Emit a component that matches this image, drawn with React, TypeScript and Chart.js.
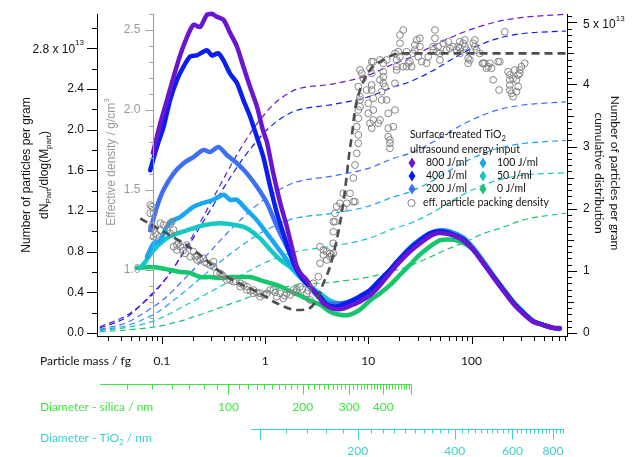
import React, { useEffect, useRef } from 'react';
import { Chart, registerables } from 'chart.js';

Chart.register(...registerables);

// ---------------- DATA ----------------
// Size distributions dN/dlog(M) (x 1e13), [mass fg, value]
const s800 = [[0.0818,1.77],[0.0963,2.06],[0.112,2.29],[0.13,2.52],[0.15,2.73],[0.175,2.91],[0.202,3.03],[0.235,3.01],[0.273,3.13],[0.305,3.14],[0.34,3.11],[0.395,3.08],[0.458,2.95],[0.532,2.82],[0.616,2.62],[0.715,2.42],[0.831,2.23],[0.962,1.98],[1.04,1.88],[1.2,1.57],[1.4,1.28],[1.62,1.05],[1.88,0.78],[2.03,0.65],[2.18,0.59],[2.53,0.52],[2.93,0.42],[3.4,0.34],[3.67,0.29],[4.58,0.24],[5.72,0.24],[7.15,0.28],[8.3,0.31],[10.4,0.37],[13,0.47],[16.2,0.59],[20.2,0.70],[25.3,0.80],[31.6,0.88],[39.5,0.95],[45.9,0.98],[53.1,0.98],[66.4,0.96],[83,0.91],[103.6,0.82],[129.6,0.69],[162,0.55],[202,0.42],[253,0.29],[316,0.19],[395,0.11],[493,0.08],[617,0.05],[716,0.05]];
const s400 = [[0.077,1.60],[0.0895,1.83],[0.104,2.03],[0.12,2.29],[0.14,2.49],[0.162,2.62],[0.188,2.72],[0.218,2.73],[0.273,2.78],[0.305,2.73],[0.353,2.75],[0.395,2.68],[0.458,2.55],[0.532,2.46],[0.616,2.29],[0.715,2.13],[0.831,1.93],[0.962,1.73],[1.12,1.44],[1.3,1.18],[1.5,0.98],[1.74,0.78],[2.03,0.62],[2.35,0.52],[2.93,0.42],[3.4,0.36],[3.95,0.28],[4.94,0.26],[6.64,0.31],[8.3,0.36],[10.4,0.42],[13,0.52],[16.2,0.62],[20.2,0.73],[25.3,0.83],[31.6,0.91],[39.5,0.98],[49.3,1.0],[61.7,0.98],[83,0.92],[103.6,0.82],[129.6,0.69],[162,0.56],[202,0.43],[253,0.30],[316,0.20],[395,0.115],[493,0.08],[617,0.05],[716,0.045]];
const s200 = [[0.077,1.01],[0.0895,1.24],[0.104,1.41],[0.13,1.57],[0.162,1.67],[0.202,1.73],[0.253,1.80],[0.294,1.78],[0.353,1.83],[0.426,1.75],[0.532,1.67],[0.665,1.57],[0.831,1.44],[1.04,1.28],[1.3,1.05],[1.62,0.85],[2.03,0.65],[2.53,0.49],[2.93,0.42],[3.95,0.30],[5.3,0.29],[6.64,0.31],[8.3,0.36],[10.4,0.42],[13,0.52],[16.2,0.62],[20.2,0.73],[25.3,0.83],[31.6,0.91],[39.5,0.97],[49.3,1.0],[61.7,0.99],[83,0.93],[103.6,0.83],[129.6,0.70],[162,0.56],[202,0.43],[253,0.30],[316,0.20],[395,0.12],[493,0.08],[617,0.05],[716,0.045]];
const s100 = [[0.0716,0.75],[0.083,0.88],[0.0963,0.91],[0.112,1.05],[0.13,1.11],[0.15,1.14],[0.202,1.24],[0.253,1.28],[0.316,1.31],[0.395,1.36],[0.458,1.31],[0.532,1.31],[0.665,1.21],[0.831,1.11],[1.04,0.98],[1.3,0.85],[1.62,0.72],[2.03,0.59],[2.53,0.49],[3.16,0.37],[3.95,0.30],[5.3,0.28],[6.64,0.30],[8.3,0.35],[10.4,0.42],[13,0.52],[16.2,0.62],[20.2,0.73],[25.3,0.84],[31.6,0.92],[39.5,0.98],[49.3,1.01],[61.7,1.0],[83,0.94],[103.6,0.84],[129.6,0.71],[162,0.57],[202,0.44],[253,0.31],[316,0.21],[395,0.12],[493,0.08],[617,0.05],[716,0.04]];
const s50 = [[0.0617,0.64],[0.069,0.70],[0.077,0.77],[0.0895,0.85],[0.12,0.95],[0.175,1.01],[0.253,1.06],[0.367,1.08],[0.532,1.06],[0.665,1.03],[0.894,0.93],[1.12,0.82],[1.4,0.72],[1.74,0.65],[2.18,0.55],[2.72,0.46],[3.4,0.39],[4.25,0.32],[5.3,0.29],[6.64,0.30],[8.3,0.35],[10.4,0.42],[13,0.52],[16.2,0.62],[20.2,0.73],[25.3,0.83],[31.6,0.91],[39.5,0.97],[49.3,1.0],[61.7,0.99],[83,0.93],[103.6,0.83],[129.6,0.70],[162,0.56],[202,0.43],[253,0.30],[316,0.20],[395,0.12],[493,0.08],[617,0.05],[716,0.045]];
const s0 = [[0.0573,0.64],[0.077,0.65],[0.0963,0.64],[0.12,0.62],[0.15,0.60],[0.188,0.59],[0.235,0.55],[0.294,0.55],[0.367,0.54],[0.458,0.55],[0.573,0.55],[0.715,0.55],[0.894,0.52],[1.12,0.49],[1.4,0.46],[1.74,0.41],[2.18,0.37],[2.72,0.32],[3.4,0.28],[4.25,0.21],[5.3,0.18],[6.64,0.18],[8.3,0.23],[10.4,0.32],[13,0.39],[16.2,0.47],[20.2,0.57],[25.3,0.67],[31.6,0.77],[39.5,0.85],[49.3,0.91],[61.7,0.92],[77.1,0.90],[103.6,0.82],[129.6,0.69],[162,0.56],[202,0.43],[253,0.30],[316,0.20],[395,0.12],[493,0.08],[617,0.05],[716,0.045]];

// Cumulative distributions (x 1e13) on shared mass grid
const cumMass = [0.025,0.046,0.079,0.1,0.126,0.158,0.2,0.251,0.316,0.398,0.501,0.631,0.794,1,1.26,1.58,2,4.6,10,17.5,25,42,53,83,130,200,316,820];
const cum800 = [0.10,0.29,0.60,0.79,1.01,1.28,1.57,1.87,2.18,2.49,2.79,3.07,3.32,3.53,3.71,3.83,3.92,4.01,4.15,4.33,4.43,4.62,4.70,4.84,4.95,5.03,5.08,5.13];
const cum400 = [0.08,0.26,0.62,0.80,1.02,1.26,1.52,1.79,2.06,2.34,2.60,2.84,3.05,3.24,3.39,3.50,3.58,3.68,3.80,3.96,4.04,4.22,4.32,4.51,4.66,4.76,4.82,4.86];
const cum200 = [0.06,0.17,0.40,0.52,0.67,0.84,1.01,1.19,1.37,1.55,1.72,1.88,2.03,2.16,2.27,2.36,2.43,2.53,2.65,2.81,2.89,3.07,3.17,3.36,3.51,3.61,3.67,3.72];
const cum100 = [0.05,0.12,0.28,0.38,0.51,0.64,0.78,0.92,1.06,1.19,1.32,1.44,1.55,1.65,1.73,1.80,1.85,1.93,2.04,2.19,2.27,2.45,2.55,2.74,2.89,2.99,3.05,3.10];
const cum50 = [0.04,0.09,0.18,0.25,0.33,0.42,0.51,0.60,0.69,0.78,0.87,0.96,1.05,1.13,1.20,1.26,1.31,1.40,1.52,1.68,1.76,1.94,2.04,2.23,2.38,2.48,2.54,2.58];
const cum0 = [0.02,0.05,0.09,0.12,0.16,0.20,0.26,0.31,0.37,0.43,0.49,0.55,0.61,0.66,0.70,0.74,0.77,0.82,0.90,1.00,1.08,1.24,1.32,1.45,1.60,1.70,1.82,1.93];

// Effective particle packing density, [mass fg, g/cm3]
const densityPts = [[0.0771,1.406],[0.0771,1.354],[0.0801,1.396],[0.0801,1.271],[0.083,1.354],[0.083,1.208],[0.0862,1.229],[0.0895,1.219],[0.0964,1.25],[0.0964,1.292],[0.1037,1.281],[0.1119,1.25],[0.1205,1.292],[0.125,1.302],[0.1205,1.229],[0.1297,1.25],[0.1297,1.146],[0.1397,1.156],[0.1397,1.125],[0.145,1.17],[0.1504,1.146],[0.16,1.12],[0.1682,1.104],[0.1746,1.156],[0.188,1.083],[0.2023,1.114],[0.2104,1.083],[0.2183,1.063],[0.22,1.09],[0.235,1.063],[0.253,1.073],[0.26,1.05],[0.273,1.042],[0.2937,1.031],[0.3162,1.052],[0.3162,1.021],[0.341,0.979],[0.3667,0.979],[0.38,0.97],[0.3948,0.958],[0.4259,0.938],[0.4584,0.938],[0.4934,0.927],[0.52,0.93],[0.5728,0.917],[0.5728,0.896],[0.62,0.905],[0.6653,0.875],[0.6653,0.896],[0.72,0.87],[0.7709,0.854],[0.7709,0.875],[0.83,0.86],[0.8946,0.833],[0.8946,0.854],[0.97,0.845],[1.039,0.854],[1.118,0.875],[1.203,0.875],[1.25,0.86],[1.298,0.833],[1.397,0.854],[1.503,0.823],[1.55,0.84],[1.622,0.854],[1.746,0.844],[1.879,0.875],[1.95,0.86],[2.027,0.875],[2.182,0.896],[2.3,0.88],[2.533,0.854],[2.6,0.87],[2.726,0.813],[2.935,0.917],[3.281,0.958],[3.406,1.042],[3.406,1.146],[3.667,1.094],[3.667,1.125],[3.955,1.114],[3.955,1.063],[4.256,1.083],[4.256,1.104],[4.581,1.104],[4.581,1.302],[4.581,1.239],[4.581,1.167],[4.421,1.094],[4.758,1.354],[4.758,1.302],[4.942,1.396],[5.319,1.417],[5.725,1.386],[6.177,1.417],[5.725,1.479],[6.646,1.479],[7.152,1.427],[7.43,1.427],
[7.72,1.729],[7.43,1.656],[7.15,1.575],[8.0,1.792],[8.0,1.844],[7.72,1.896],[8.0,1.948],[8.0,2.0],[8.31,2.083],[8.0,2.146],[8.31,2.021],[8.31,2.063],[8.94,2.198],[8.63,2.229],[8.31,2.25],
[10.78,2.302],[10.78,2.229],[9.64,2.125],[9.99,2.042],[10.78,2.125],[11.17,2.073],[9.99,1.979],[10.38,1.917],[10.78,1.886],[11.17,1.938],[12.97,1.938],[12.49,1.917],[13.96,2.208],[13.96,2.167],[14.5,2.146],[13.47,2.114],[13.47,2.063],[15.06,2.063],[15.61,1.979],[18.12,2.0],[15.61,1.833],[16.21,1.792],[16.21,1.761],[17.45,1.896],[18.12,2.167],[18.82,2.313],[20.26,2.417],[21.8,2.5],[20.26,2.469],[19.5,2.364],[20.26,2.333],[24.4,2.292],[25.3,2.302],[27.2,2.354],[29.4,2.438],[28.3,2.406],[31.6,2.396],[30.4,2.333],[32.9,2.302],[36.7,2.292],[38.0,2.333],[42.5,2.375],[44.2,2.5],[44.2,2.448],[45.9,2.364],[49.4,2.354],[53.2,2.417],[57.3,2.375],[61.7,2.386],[66.4,2.396],[71.7,2.375],[74.2,2.396],[77.1,2.354],[83.0,2.417],[86.2,2.396],[89.5,2.375],[92.8,2.292],[96.4,2.313],[103.7,2.417],[107.7,2.396],[111.9,2.375],[120.4,2.354],[127.9,2.292],[134.6,2.292],[144.9,2.271],[150.5,2.292],[156.3,2.261],[162,2.188],[181,2.302],[185,2.125],[210,2.489],[226,2.239],[235,2.219],[235,2.188],[235,2.156],[244,2.104],[253,2.083],[273,2.188],[283,2.219],[294,2.25],[305,2.271],[328,2.292],[263,2.25],[49.4,2.313],[47.5,2.396],[23.5,2.364],[18.82,2.271],[21.8,2.271],[18.82,2.25],[13.96,2.239],[12.97,2.188],[13.96,2.292],[23.5,2.271],[26.3,2.271],[10.38,2.261],[11.17,2.0],[15.61,1.886],[16.21,1.813],[10.78,2.156],[18.12,2.354],[11.17,2.302],[12.97,2.313],[15.06,2.313],[28.3,2.375],[31.6,2.448],[42.5,2.396],[59.4,2.427],[77.1,2.386],[77.1,2.427],[86.2,2.438],[107.7,2.438],[129.6,2.292],[139.8,2.261],[92.8,2.323],[188,2.302],[294,2.229],[283,2.146],[273,2.114],[253,2.198],[235,2.125]];
const densityFit = [[0.0617,1.323],[0.2023,1.125],[0.4259,0.958],[0.8946,0.854],[1.298,0.792],[2.027,0.75],[2.533,0.754],[3.164,0.8125],[3.667,0.917],[4.256,1.021],[4.942,1.188],[5.525,1.354],[5.946,1.5],[6.543,1.729],[6.902,1.833],[7.43,2.0],[8.31,2.125],[10.38,2.25],[13.96,2.313],[20.26,2.354],[818,2.354]];

// Axis tick labels
const massLabels = [0.1, 1, 10, 100];
const leftLabels = [0, 0.4, 0.8, 1.2, 1.6, 2.0, 2.4, 2.8];
const rightLabels = [0, 1, 2, 3, 4, 5];
const densLabels = [1.0, 1.5, 2.0, 2.5];
// Secondary diameter axes: diameter (nm) -> mass (fg) anchors
const silicaD = [40, 100, 200, 300, 400, 500];
const silicaM = [0.0458, 0.441, 2.314, 6.54, 13.95, 26.2];
const silicaLabels = [100, 200, 300, 400];
const tio2D = [100, 200, 400, 600, 800, 880];
const tio2M = [0.895, 7.89, 68.9, 249, 615, 830];
const tio2Labels = [200, 400, 600, 800];

const legendLabels = ['800 J/ml', '400 J/ml', '200 J/ml', '100 J/ml', '50 J/ml', '0 J/ml'];
const colors = ['#6a16d0', '#0a1ef0', '#3c6ef8', '#18a6f5', '#16c8c4', '#14c66c'];
const solidSeries = [s800, s400, s200, s100, s50, s0];
const cumSeries = [cum800, cum400, cum200, cum100, cum50, cum0];

// ---------------- HELPERS ----------------
const FUI = 'Lato, "Liberation Sans", sans-serif';
const FNUM = '"Liberation Sans", Arial, sans-serif';

type Run = { t: string; s?: number; dy?: number };
function rich(ctx: CanvasRenderingContext2D, runs: Run[], x: number, y: number, align: string, family: string, color: string, base = 12) {
  const widths = runs.map(r => { ctx.font = `${r.s ?? base}px ${family}`; return ctx.measureText(r.t).width; });
  const total = widths.reduce((a, b) => a + b, 0);
  let cx = align === 'left' ? x : align === 'right' ? x - total : x - total / 2;
  ctx.fillStyle = color; ctx.textAlign = 'left'; ctx.textBaseline = 'middle';
  runs.forEach((r, i) => { ctx.font = `${r.s ?? base}px ${family}`; ctx.fillText(r.t, cx, y + (r.dy ?? 0)); cx += widths[i]; });
}
function richRot(ctx: CanvasRenderingContext2D, runs: Run[], cx: number, cy: number, angle: number, family: string, color: string, base = 12) {
  ctx.save(); ctx.translate(cx, cy); ctx.rotate(angle); rich(ctx, runs, 0, 0, 'center', family, color, base); ctx.restore();
}
function dToMass(d: number, Ds: number[], Ms: number[]) {
  let i = 0;
  while (i < Ds.length - 2 && d > Ds[i + 1]) i++;
  const x0 = Math.log10(Ds[i]), x1 = Math.log10(Ds[i + 1]);
  const y0 = Math.log10(Ms[i]), y1 = Math.log10(Ms[i + 1]);
  return Math.pow(10, y0 + (Math.log10(d) - x0) * (y1 - y0) / (x1 - x0));
}
const near = (a: number, b: number) => Math.abs(a - b) < 1e-6 * Math.max(1, Math.abs(b));

const decorPlugin = {
  id: 'decor',
  afterDraw(chart: any) {
    const { ctx, chartArea: ca, scales } = chart;
    const xs = scales.x, yl = scales.y, yr = scales.y2, yd = scales.yDens;
    const snap = (v: number) => Math.round(v) + 0.5;
    const seg = (x1: number, y1: number, x2: number, y2: number, color: string, w = 1) => {
      ctx.strokeStyle = color; ctx.lineWidth = w; ctx.beginPath(); ctx.moveTo(x1, y1); ctx.lineTo(x2, y2); ctx.stroke();
    };
    ctx.save();
    // bottom mass ticks
    for (let e = -2; e <= 2; e++) for (let k = 1; k <= 9; k++) {
      const v = k * Math.pow(10, e);
      if (v < 0.03 || v > 800) continue;
      const px = snap(xs.getPixelForValue(v));
      const major = massLabels.some(l => near(v, l));
      seg(px, ca.bottom, px, ca.bottom + (major ? 8 : 5), '#000');
    }
    // left ticks
    for (let i = 0; i <= 15; i++) {
      const py = snap(yl.getPixelForValue(i * 0.2));
      seg(ca.left - (i % 2 === 0 ? 10 : 5), py, ca.left, py, '#000');
    }
    // right ticks
    for (let i = 0; i <= 51; i++) {
      const py = snap(yr.getPixelForValue(i / 10));
      const len = i % 10 === 0 ? 10 : i % 5 === 0 ? 7 : 5;
      seg(ca.right, py, ca.right + len, py, '#000');
    }
    // special labels with exponent
    rich(ctx, [{ t: '2.8 x 10' }, { t: '13', s: 8, dy: -6 }], ca.left - 13, yl.getPixelForValue(2.8) + 1, 'right', FNUM, '#111');
    rich(ctx, [{ t: '5 x 10' }, { t: '13', s: 8, dy: -6 }], ca.right + 16, yr.getPixelForValue(5) + 2, 'left', FNUM, '#111');

    // density axis (gray, inside)
    const gx = snap(xs.getPixelForValue(0.082));
    const gray = '#9a9a9a';
    seg(gx, yd.getPixelForValue(0.64), gx, ca.top, gray);
    for (let i = 7; i <= 26; i++) {
      const py = snap(yd.getPixelForValue(i / 10));
      seg(gx - (i % 5 === 0 ? 8 : 4), py, gx, py, gray);
    }
    ctx.font = `12px ${FNUM}`; ctx.fillStyle = gray; ctx.textAlign = 'right'; ctx.textBaseline = 'middle';
    densLabels.forEach(v => ctx.fillText(v.toFixed(1), gx - 13, yd.getPixelForValue(v)));
    richRot(ctx, [{ t: 'Effective density / g/cm' }, { t: '3', s: 8, dy: -5 }], 112, 162, -Math.PI / 2, FNUM, gray, 12);

    // axis titles
    richRot(ctx, [{ t: 'Number of particles per gram' }], 27, 175, -Math.PI / 2, FNUM, '#111', 12);
    richRot(ctx, [{ t: 'dN' }, { t: 'Part', s: 8, dy: 4 }, { t: '/dlog(M' }, { t: 'part', s: 8, dy: 4 }, { t: ')' }], 45, 175, -Math.PI / 2, FNUM, '#111', 12);
    richRot(ctx, [{ t: 'Number of particles per gram' }], 615, 173, Math.PI / 2, FUI, '#111', 12);
    richRot(ctx, [{ t: 'cumulative distribution' }], 599, 173, Math.PI / 2, FUI, '#111', 12);
    rich(ctx, [{ t: 'Particle mass / fg' }], 40, 361, 'left', FUI, '#111', 12);

    // silica axis
    const green = '#3de63d';
    const sy = 384.5;
    seg(xs.getPixelForValue(0.0253), sy, xs.getPixelForValue(26.2), sy, green);
    for (let d = 40; d <= 500; d += 10) {
      const px = snap(xs.getPixelForValue(dToMass(d, silicaD, silicaM)));
      seg(px, sy, px, sy + (d % 100 === 0 ? 10 : 5), green);
    }
    ctx.font = `12px ${FUI}`; ctx.fillStyle = green; ctx.textAlign = 'center'; ctx.textBaseline = 'middle';
    silicaLabels.forEach(d => ctx.fillText(String(d), xs.getPixelForValue(dToMass(d, silicaD, silicaM)), 407));
    rich(ctx, [{ t: 'Diameter - silica / nm' }], 40, 407, 'left', FUI, green, 12);

    // TiO2 axis
    const cyan = '#3ccfcf';
    const ty = 429.5;
    seg(xs.getPixelForValue(0.732), ty, xs.getPixelForValue(788), ty, cyan);
    for (let d = 100; d <= 860; d += 20) {
      const px = snap(xs.getPixelForValue(dToMass(d, tio2D, tio2M)));
      const major = [100, 200, 400, 600, 800].includes(d);
      seg(px, ty, px, ty + (major ? 10 : 4), cyan);
    }
    ctx.font = `12px ${FUI}`; ctx.fillStyle = cyan; ctx.textAlign = 'center'; ctx.textBaseline = 'middle';
    tio2Labels.forEach(d => ctx.fillText(String(d), xs.getPixelForValue(dToMass(d, tio2D, tio2M)), 451));
    rich(ctx, [{ t: 'Diameter - TiO' }, { t: '2', s: 8, dy: 4 }, { t: ' / nm' }], 40, 438, 'left', FUI, cyan, 12);

    // legend
    const lx = 410;
    const lf = 10.5;
    rich(ctx, [{ t: 'Surface-treated TiO' }, { t: '2', s: 7.5, dy: 4 }], lx, 135, 'left', FUI, '#111', lf);
    rich(ctx, [{ t: 'ultrasound energy input' }], lx, 150, 'left', FUI, '#111', lf);
    const diamond = (x: number, y: number, c: string) => {
      ctx.fillStyle = c; ctx.beginPath(); ctx.moveTo(x, y - 5.5); ctx.lineTo(x + 3.5, y); ctx.lineTo(x, y + 5.5); ctx.lineTo(x - 3.5, y); ctx.closePath(); ctx.fill();
    };
    legendLabels.forEach((lab, i) => {
      const col = i < 3 ? 0 : 1; const row = i % 3;
      const y = 163 + row * 13;
      diamond(col === 0 ? 412 : 483, y, colors[i]);
      rich(ctx, [{ t: lab }], col === 0 ? 426 : 497, y, 'left', FUI, '#111', lf);
    });
    ctx.strokeStyle = '#858585'; ctx.lineWidth = 1; ctx.beginPath(); ctx.arc(411.5, 203, 3.6, 0, Math.PI * 2); ctx.stroke();
    rich(ctx, [{ t: 'eff. particle packing density' }], 423, 203, 'left', FUI, '#111', lf);
    ctx.restore();
  },
};

export default function App() {
  const ref = useRef<HTMLCanvasElement>(null);
  useEffect(() => {
    const toXY = (pairs: number[][]) => pairs.map(([x, y]) => ({ x, y }));
    const datasets: any[] = [
      { label: 'fit', data: toXY(densityFit), yAxisID: 'yDens', borderColor: '#4d4d4d', borderWidth: 2.6, borderDash: [8, 5], pointRadius: 0, cubicInterpolationMode: 'monotone', order: 0, clip: 8 },
      { label: 'density', data: toXY(densityPts), yAxisID: 'yDens', showLine: false, pointRadius: 3.4, pointBorderWidth: 1, pointBorderColor: '#858585', pointBackgroundColor: 'rgba(0,0,0,0)', order: 1 },
    ];
    solidSeries.forEach((s, i) => datasets.push({
      label: legendLabels[i], data: toXY(s), yAxisID: 'y', borderColor: colors[i], borderWidth: 4.5, pointRadius: 0, tension: 0.25,
      borderJoinStyle: 'round', borderCapStyle: 'round', order: 2 + i, clip: 8,
    }));
    cumSeries.forEach((c, i) => datasets.push({
      label: 'cum ' + legendLabels[i], data: cumMass.map((m, j) => ({ x: m, y: c[j] })), yAxisID: 'y2', borderColor: colors[i], borderWidth: 1.2,
      borderDash: [6, 4], pointRadius: 0, cubicInterpolationMode: 'monotone', order: 8 + i, clip: 8,
    }));
    const tickFont = { family: FNUM, size: 12 };
    const chart = new Chart(ref.current as HTMLCanvasElement, {
      type: 'line',
      data: { datasets },
      options: {
        animation: false,
        responsive: false,
        devicePixelRatio: 1,
        layout: { padding: { top: 14, left: 0, right: 0, bottom: 0 } },
        plugins: { legend: { display: false }, tooltip: { enabled: false } },
        scales: {
          x: {
            type: 'logarithmic', position: 'bottom', min: 0.0235, max: 842,
            grid: { display: false, drawTicks: true, tickLength: 8 },
            border: { display: true, color: '#000', width: 1 },
            afterBuildTicks: (s: any) => { s.ticks = massLabels.map(v => ({ value: v })); },
            ticks: { autoSkip: false, maxRotation: 0, padding: 10, color: '#111', font: { family: FUI, size: 12 }, callback: (v: any) => String(v) },
            afterFit: (s: any) => { s.height = 121; },
          },
          y: {
            type: 'linear', position: 'left', min: -0.0295, max: 3.137,
            grid: { display: false, drawTicks: true, tickLength: 10 },
            border: { display: true, color: '#000', width: 1 },
            afterBuildTicks: (s: any) => { s.ticks = leftLabels.map(v => ({ value: v })); },
            ticks: { padding: 3, color: '#111', font: tickFont, callback: (v: any) => (near(Number(v), 2.8) ? '' : Number(v).toFixed(1)) },
            afterFit: (s: any) => { s.width = 97; },
          },
          y2: {
            type: 'linear', position: 'right', min: -0.048, max: 5.134,
            grid: { display: false, drawTicks: true, tickLength: 10 },
            border: { display: true, color: '#000', width: 1 },
            afterBuildTicks: (s: any) => { s.ticks = rightLabels.map(v => ({ value: v })); },
            ticks: { padding: 6, color: '#111', font: tickFont, callback: (v: any) => (Number(v) === 5 ? '' : String(v)) },
            afterFit: (s: any) => { s.width = 68; },
          },
          yDens: { type: 'linear', display: false, min: 0.5875, max: 2.6 },
        },
      } as any,
      plugins: [decorPlugin],
    });
    return () => chart.destroy();
  }, []);
  return (
    <div style={{ position: 'fixed', left: 0, top: 0, width: 635, height: 457, background: '#fff' }}>
      <canvas ref={ref} width={635} height={457} style={{ display: 'block', width: 635, height: 457 }} />
    </div>
  );
}
